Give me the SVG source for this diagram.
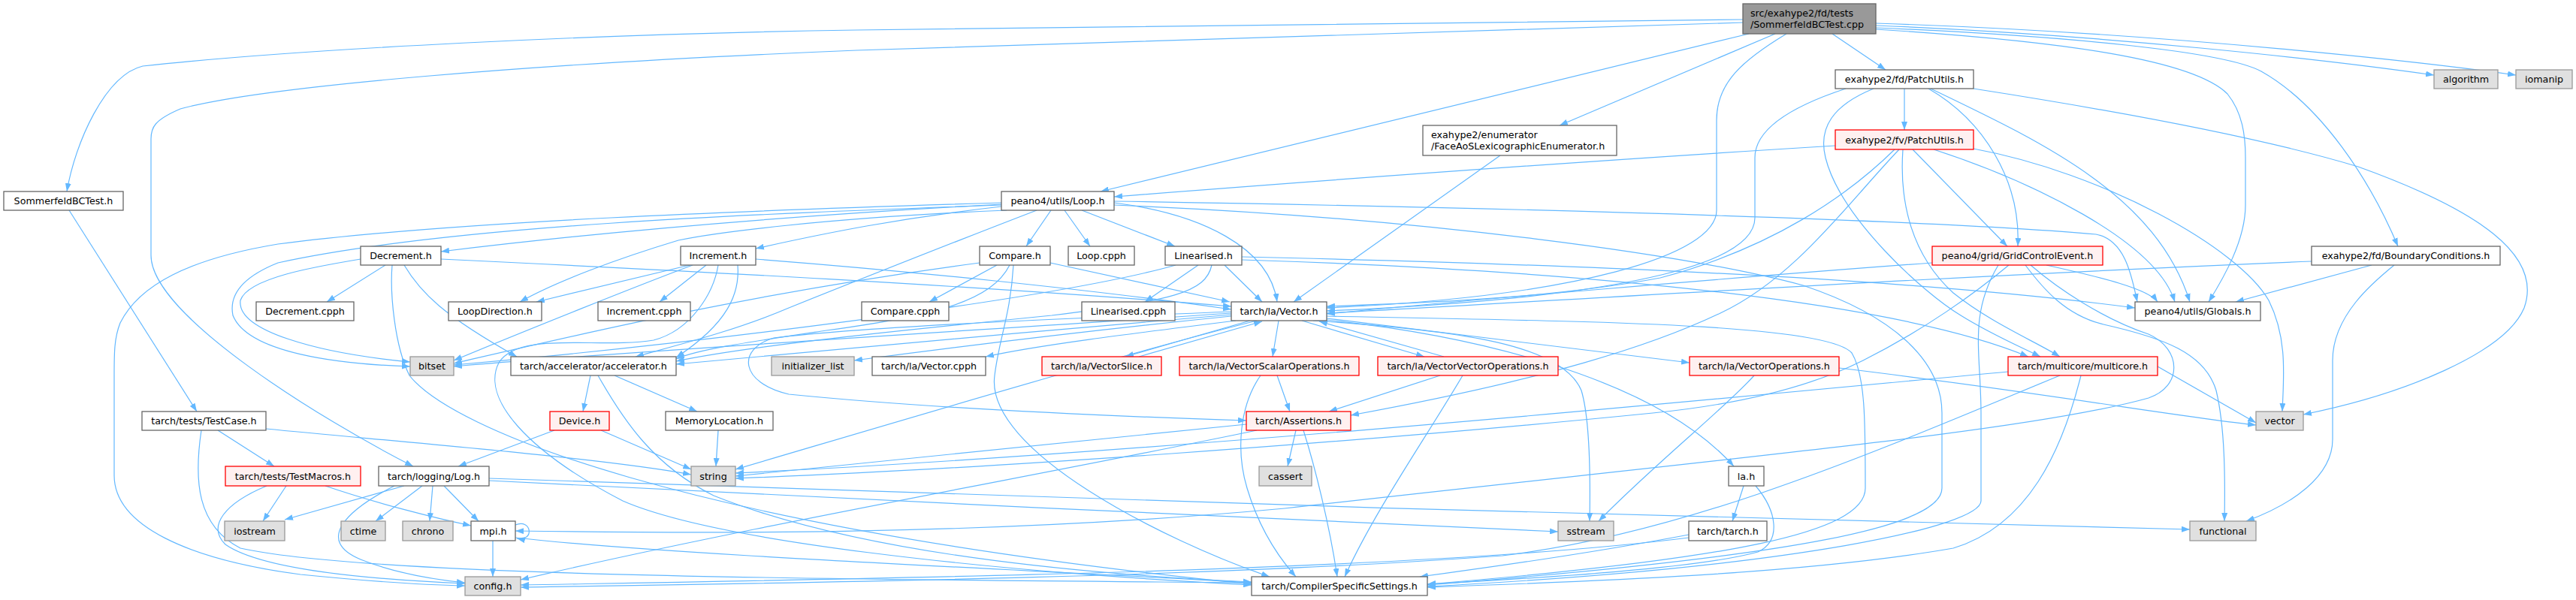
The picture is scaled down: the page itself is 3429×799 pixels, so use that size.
<svg xmlns="http://www.w3.org/2000/svg" width="3429" height="799" viewBox="0 0 3429 799">
<style>
rect{stroke-width:1.3}
.w rect{fill:#ffffff;stroke:#666666}
.r rect{fill:#fff0f0;stroke:#ff0000}
.g rect{fill:#e0e0e0;stroke:#999999}
.t rect{fill:#999999;stroke:#666666}
text{font-family:"DejaVu Sans","Liberation Sans",sans-serif;font-size:12.7px;fill:#000000}
.c{text-anchor:middle}
#edges path{fill:none;stroke:#63b8ff;stroke-width:1.2;marker-end:url(#ah)}
</style>
<defs>
<marker id="ah" markerUnits="userSpaceOnUse" markerWidth="11" markerHeight="8" refX="11" refY="4" orient="auto">
<path d="M0,0 L11,4 L0,8 z" fill="#63b8ff" stroke="none"/>
</marker>
</defs>
<rect width="3429" height="799" fill="#ffffff"/>
<g id="edges">
<path d="M2320,26 L1140,40 C800,45 400,65 190,88 C140,100 100,190 89,255"/>
<path d="M2320,30 L1140,67 C700,85 350,115 240,145 C205,160 201,170 201,185 L201,340 C201,420 430,560 550,621"/>
<path d="M2328,45 L1465,255"/>
<path d="M2363,45 L2076,167"/>
<path d="M2378,45 C2320,80 2285,110 2285,160 L2285,280 C2285,340 2100,395 1766,410"/>
<path d="M2439,45 L2510,93"/>
<path d="M2497,34 C2800,46 3100,80 3240,100"/>
<path d="M2497,31 C2900,44 3250,86 3349,100"/>
<path d="M2497,37 C2750,48 2960,68 3010,95 C3090,140 3155,240 3192,328"/>
<path d="M2497,39 C2750,55 2920,80 2965,125 C2985,150 2989,180 2989,210 L2989,273 C2989,320 2960,370 2940,402"/>
<path d="M92,280 L262,548"/>
<path d="M2535,118 L2535,173"/>
<path d="M2567,118 C2640,160 2690,240 2686,328"/>
<path d="M2457,118 C2390,140 2336,170 2336,210 L2336,290 C2336,345 2200,395 1766,414"/>
<path d="M2627,118 C2800,145 3000,180 3139,222 C3300,280 3385,340 3360,410 C3335,470 3200,525 3066,552"/>
<path d="M2494,118 C2440,140 2420,170 2430,210 C2450,290 2560,390 2610,420 C2650,445 2690,462 2716,475"/>
<path d="M2570,118 C2720,190 2870,260 2915,402"/>
<path d="M2443,194 C2100,215 1700,245 1483,262"/>
<path d="M2522,199 C2460,260 2360,330 2210,370 C2050,400 1850,405 1766,408"/>
<path d="M2528,199 C2460,270 2390,370 2290,417 C2200,460 2060,505 1798,553"/>
<path d="M2546,199 L2672,328"/>
<path d="M2533,199 C2528,270 2545,340 2600,390 C2650,430 2710,455 2742,475"/>
<path d="M2574,199 C2700,240 2870,320 2895,402"/>
<path d="M2627,198 C2800,230 2980,330 3020,400 C3045,450 3040,500 3038,548"/>
<path d="M1997,207 L1722,402"/>
<path d="M2572,350 C2300,370 1950,400 1766,418"/>
<path d="M2674,353 C2630,390 2560,440 2480,480 C2400,520 2300,540 2200,550 C1800,590 1300,625 979,637"/>
<path d="M2696,353 C2720,385 2750,420 2800,432 C2880,450 2935,470 2950,520 C2962,570 2962,640 2961,694"/>
<path d="M2703,353 C2740,385 2800,425 2860,445 C2905,465 2905,515 2860,530 C2700,575 2300,610 1710,677 C1300,715 900,710 686,707"/>
<path d="M2724,353 C2800,370 2860,385 2872,402"/>
<path d="M2660,353 C2620,420 2637,470 2637,550 L2637,667 C2637,700 2400,755 1900,781"/>
<path d="M3077,348 C2500,372 2000,405 1766,417"/>
<path d="M3157,353 L2976,402"/>
<path d="M3187,353 C3160,375 3105,420 3105,480 L3105,585 C3105,635 3050,672 2990,694"/>
<path d="M1399,280 L1366,328"/>
<path d="M1417,280 L1451,328"/>
<path d="M1440,280 L1564,328"/>
<path d="M1483,270 C1600,285 1690,330 1700,402"/>
<path d="M1483,268 C2100,278 2600,295 2790,312 C2830,320 2838,370 2845,402"/>
<path d="M1333,272 C1000,290 750,315 587,335"/>
<path d="M1333,275 C1200,290 1100,310 1006,331"/>
<path d="M1340,280 C1100,290 950,310 903,320 C820,345 740,375 692,402"/>
<path d="M1333,270 C1000,280 600,295 370,325 C250,345 185,380 160,430 C152,450 152,470 152,500 L152,633 C152,700 250,745 400,765 C500,775 560,779 619,780"/>
<path d="M1333,273 C1000,285 600,300 370,350 C320,370 305,395 310,420 C330,470 450,485 546,488"/>
<path d="M1380,280 C1250,330 1100,390 1050,410 C980,440 900,460 846,475"/>
<path d="M1483,273 C1900,290 2250,340 2400,380 C2520,420 2585,480 2585,550 L2585,650 C2585,700 2400,740 1900,779"/>
<path d="M513,353 L435,402"/>
<path d="M538,353 C560,390 590,420 688,475"/>
<path d="M480,345 C420,355 330,370 320,400 C315,440 420,470 546,482"/>
<path d="M587,345 C900,360 1300,380 1639,408"/>
<path d="M522,353 C519,390 525,460 545,500 C600,570 900,700 1666,778"/>
<path d="M918,353 L714,402"/>
<path d="M922,353 C850,380 700,440 604,480"/>
<path d="M940,353 L878,402"/>
<path d="M956,353 C950,390 920,440 870,453 C800,465 690,440 664,483 C640,530 700,600 829,667 C950,720 1300,760 1666,779"/>
<path d="M982,353 C985,390 970,430 900,476"/>
<path d="M1006,345 C1200,360 1450,385 1639,412"/>
<path d="M1327,353 L1237,402"/>
<path d="M1304,350 C1000,390 750,450 604,484"/>
<path d="M1344,353 C1320,400 1250,420 1100,440 C1000,455 930,465 900,478"/>
<path d="M1349,353 C1345,420 1330,450 1324,500 C1310,600 1550,720 1690,768"/>
<path d="M1398,350 L1637,402"/>
<path d="M1595,353 L1524,402"/>
<path d="M1630,353 L1680,402"/>
<path d="M1565,353 C1400,400 900,460 604,486"/>
<path d="M1613,353 C1605,390 1560,400 1400,420 C1200,440 1000,460 900,481"/>
<path d="M1653,342 C2000,350 2500,365 2842,410"/>
<path d="M1653,346 C2100,360 2520,400 2700,475"/>
<path d="M1639,417 C1300,440 800,470 604,488"/>
<path d="M1639,419 C1400,440 1100,465 900,485"/>
<path d="M1639,421 C1450,440 1250,465 1137,480"/>
<path d="M1645,427 C1500,445 1380,460 1312,475"/>
<path d="M1664,427 L1498,475"/>
<path d="M1516,475 L1680,428"/>
<path d="M1702,427 L1694,475"/>
<path d="M1733,427 L1896,475"/>
<path d="M1922,475 L1756,428"/>
<path d="M1766,424 L2249,483"/>
<path d="M1748,427 C1950,440 2080,460 2105,520 C2117,560 2117,640 2116,694"/>
<path d="M1673,427 C1500,470 1200,560 979,625"/>
<path d="M1766,426 C1950,445 2200,500 2308,621"/>
<path d="M1766,421 C2100,428 2430,430 2465,470 C2483,500 2483,560 2483,650 C2483,710 2300,745 1900,778"/>
<path d="M1639,415 C1400,425 1150,435 1030,450 C980,465 985,510 1050,525 C1250,545 1500,555 1659,560"/>
<path d="M1700,500 L1717,548"/>
<path d="M1678,500 C1650,540 1645,600 1660,650 C1675,700 1700,740 1725,768"/>
<path d="M1917,500 L1769,548"/>
<path d="M1947,500 C1900,580 1830,680 1790,768"/>
<path d="M2335,500 C2300,540 2200,620 2128,694"/>
<path d="M2448,490 C2700,520 2900,555 3003,566"/>
<path d="M1725,573 L1714,621"/>
<path d="M1735,573 C1750,620 1770,700 1780,768"/>
<path d="M1659,565 C1400,590 1150,615 979,634"/>
<path d="M1673,573 C1400,630 1000,700 693,772"/>
<path d="M2321,647 L2306,694"/>
<path d="M2337,647 C2365,680 2372,720 2340,735 C2250,760 2000,772 1900,778"/>
<path d="M2248,712 C2100,740 1950,760 1890,768"/>
<path d="M2248,716 C1900,760 1200,770 693,779"/>
<path d="M2872,488 L3003,563"/>
<path d="M2673,495 C2400,520 1600,600 979,630"/>
<path d="M2770,500 C2745,600 2700,700 2600,730 C2400,765 2100,775 1900,782"/>
<path d="M2742,500 C2500,600 2250,710 2000,740 C1600,770 1000,777 693,782"/>
<path d="M956,573 L953,621"/>
<path d="M786,500 L776,548"/>
<path d="M818,500 L928,548"/>
<path d="M796,500 C830,560 870,620 950,660 C1150,740 1450,765 1666,775"/>
<path d="M738,573 L610,621"/>
<path d="M800,573 L920,625"/>
<path d="M290,573 L365,621"/>
<path d="M354,571 C550,590 800,610 920,632"/>
<path d="M268,573 C258,640 262,700 320,730 C500,770 1200,772 1666,776"/>
<path d="M381,647 L350,694"/>
<path d="M433,647 C500,670 580,690 627,700"/>
<path d="M355,647 C300,670 275,700 300,725 C350,760 500,772 619,777"/>
<path d="M538,647 L379,692"/>
<path d="M562,647 L500,694"/>
<path d="M576,647 L572,694"/>
<path d="M591,647 L637,694"/>
<path d="M525,647 C460,680 420,720 480,745 C530,765 580,772 619,776"/>
<path d="M651,640 C1000,660 1700,690 2074,708"/>
<path d="M651,637 C1200,660 2300,690 2915,705"/>
<path d="M656,720 L656,768"/>
<path d="M686,699 C708,690 712,722 688,717"/>
<path d="M686,716 C900,740 1400,760 1666,776"/>
</g>
<g id="n_top" class="t"><rect x="2320" y="5" width="177" height="40"/><text x="2330" y="21.5">src/exahype2/fd/tests</text><text x="2330" y="36.5">/SommerfeldBCTest.cpp</text></g>
<g id="n_fdpatch" class="w"><rect x="2443" y="93" width="184" height="25"/><text class="c" x="2535" y="110">exahype2/fd/PatchUtils.h</text></g>
<g id="n_algorithm" class="g"><rect x="3240" y="93" width="85" height="25"/><text class="c" x="3282.5" y="110">algorithm</text></g>
<g id="n_iomanip" class="g"><rect x="3349" y="93" width="75" height="25"/><text class="c" x="3386.5" y="110">iomanip</text></g>
<g id="n_fvpatch" class="r"><rect x="2443" y="173" width="184" height="26"/><text class="c" x="2535" y="190.5">exahype2/fv/PatchUtils.h</text></g>
<g id="n_faceaos" class="w"><rect x="1894" y="167" width="258" height="40"/><text x="1905" y="183.5">exahype2/enumerator</text><text x="1905" y="198.5">/FaceAoSLexicographicEnumerator.h</text></g>
<g id="n_sbh" class="w"><rect x="5" y="255" width="159" height="25"/><text class="c" x="84.5" y="272">SommerfeldBCTest.h</text></g>
<g id="n_loop" class="w"><rect x="1333" y="255" width="150" height="25"/><text class="c" x="1408" y="272">peano4/utils/Loop.h</text></g>
<g id="n_decrement" class="w"><rect x="480" y="328" width="107" height="25"/><text class="c" x="533.5" y="345">Decrement.h</text></g>
<g id="n_increment" class="w"><rect x="906" y="328" width="100" height="25"/><text class="c" x="956" y="345">Increment.h</text></g>
<g id="n_compare" class="w"><rect x="1304" y="328" width="94" height="25"/><text class="c" x="1351" y="345">Compare.h</text></g>
<g id="n_loopcpph" class="w"><rect x="1422" y="328" width="88" height="25"/><text class="c" x="1466" y="345">Loop.cpph</text></g>
<g id="n_linearised" class="w"><rect x="1551" y="328" width="102" height="25"/><text class="c" x="1602" y="345">Linearised.h</text></g>
<g id="n_gce" class="r"><rect x="2572" y="328" width="227" height="25"/><text class="c" x="2685.5" y="345">peano4/grid/GridControlEvent.h</text></g>
<g id="n_bc" class="w"><rect x="3077" y="328" width="251" height="25"/><text class="c" x="3202.5" y="345">exahype2/fd/BoundaryConditions.h</text></g>
<g id="n_decrementcpph" class="w"><rect x="341" y="402" width="130" height="25"/><text class="c" x="406" y="419">Decrement.cpph</text></g>
<g id="n_loopdirection" class="w"><rect x="597" y="402" width="124" height="25"/><text class="c" x="659" y="419">LoopDirection.h</text></g>
<g id="n_incrementcpph" class="w"><rect x="796" y="402" width="123" height="25"/><text class="c" x="857.5" y="419">Increment.cpph</text></g>
<g id="n_comparecpph" class="w"><rect x="1147" y="402" width="116" height="25"/><text class="c" x="1205" y="419">Compare.cpph</text></g>
<g id="n_linearisedcpph" class="w"><rect x="1440" y="402" width="124" height="25"/><text class="c" x="1502" y="419">Linearised.cpph</text></g>
<g id="n_vector_h" class="w"><rect x="1639" y="402" width="127" height="25"/><text class="c" x="1702.5" y="419">tarch/la/Vector.h</text></g>
<g id="n_globals" class="w"><rect x="2842" y="402" width="167" height="25"/><text class="c" x="2925.5" y="419">peano4/utils/Globals.h</text></g>
<g id="n_bitset" class="g"><rect x="546" y="475" width="58" height="25"/><text class="c" x="575" y="492">bitset</text></g>
<g id="n_accel" class="w"><rect x="680" y="475" width="220" height="25"/><text class="c" x="790" y="492">tarch/accelerator/accelerator.h</text></g>
<g id="n_initlist" class="g"><rect x="1027" y="475" width="110" height="25"/><text class="c" x="1082" y="492">initializer_list</text></g>
<g id="n_vectorcpph" class="w"><rect x="1161" y="475" width="151" height="25"/><text class="c" x="1236.5" y="492">tarch/la/Vector.cpph</text></g>
<g id="n_vslice" class="r"><rect x="1387" y="475" width="159" height="25"/><text class="c" x="1466.5" y="492">tarch/la/VectorSlice.h</text></g>
<g id="n_vso" class="r"><rect x="1570" y="475" width="239" height="25"/><text class="c" x="1689.5" y="492">tarch/la/VectorScalarOperations.h</text></g>
<g id="n_vvo" class="r"><rect x="1834" y="475" width="240" height="25"/><text class="c" x="1954" y="492">tarch/la/VectorVectorOperations.h</text></g>
<g id="n_vo" class="r"><rect x="2249" y="475" width="199" height="25"/><text class="c" x="2348.5" y="492">tarch/la/VectorOperations.h</text></g>
<g id="n_multicore" class="r"><rect x="2673" y="475" width="199" height="25"/><text class="c" x="2772.5" y="492">tarch/multicore/multicore.h</text></g>
<g id="n_testcase" class="w"><rect x="189" y="548" width="165" height="25"/><text class="c" x="271.5" y="565">tarch/tests/TestCase.h</text></g>
<g id="n_device" class="r"><rect x="732" y="548" width="79" height="25"/><text class="c" x="771.5" y="565">Device.h</text></g>
<g id="n_memloc" class="w"><rect x="886" y="548" width="143" height="25"/><text class="c" x="957.5" y="565">MemoryLocation.h</text></g>
<g id="n_assertions" class="r"><rect x="1659" y="548" width="139" height="25"/><text class="c" x="1728.5" y="565">tarch/Assertions.h</text></g>
<g id="n_vectorstd" class="g"><rect x="3003" y="548" width="63" height="25"/><text class="c" x="3034.5" y="565">vector</text></g>
<g id="n_testmacros" class="r"><rect x="300" y="621" width="180" height="26"/><text class="c" x="390" y="638.5">tarch/tests/TestMacros.h</text></g>
<g id="n_log" class="w"><rect x="504" y="621" width="147" height="26"/><text class="c" x="577.5" y="638.5">tarch/logging/Log.h</text></g>
<g id="n_string" class="g"><rect x="920" y="621" width="59" height="26"/><text class="c" x="949.5" y="638.5">string</text></g>
<g id="n_cassert" class="g"><rect x="1676" y="621" width="70" height="26"/><text class="c" x="1711" y="638.5">cassert</text></g>
<g id="n_la" class="w"><rect x="2301" y="621" width="47" height="26"/><text class="c" x="2324.5" y="638.5">la.h</text></g>
<g id="n_iostream" class="g"><rect x="299" y="694" width="80" height="26"/><text class="c" x="339" y="711.5">iostream</text></g>
<g id="n_ctime" class="g"><rect x="454" y="694" width="59" height="26"/><text class="c" x="483.5" y="711.5">ctime</text></g>
<g id="n_chrono" class="g"><rect x="536" y="694" width="67" height="26"/><text class="c" x="569.5" y="711.5">chrono</text></g>
<g id="n_mpi" class="w"><rect x="627" y="694" width="59" height="26"/><text class="c" x="656.5" y="711.5">mpi.h</text></g>
<g id="n_sstream" class="g"><rect x="2074" y="694" width="74" height="26"/><text class="c" x="2111" y="711.5">sstream</text></g>
<g id="n_tarch" class="w"><rect x="2248" y="694" width="104" height="26"/><text class="c" x="2300" y="711.5">tarch/tarch.h</text></g>
<g id="n_functional" class="g"><rect x="2915" y="694" width="88" height="26"/><text class="c" x="2959" y="711.5">functional</text></g>
<g id="n_config" class="g"><rect x="619" y="768" width="74" height="25"/><text class="c" x="656" y="785">config.h</text></g>
<g id="n_css" class="w"><rect x="1666" y="768" width="234" height="25"/><text class="c" x="1783" y="785">tarch/CompilerSpecificSettings.h</text></g>
</svg>
